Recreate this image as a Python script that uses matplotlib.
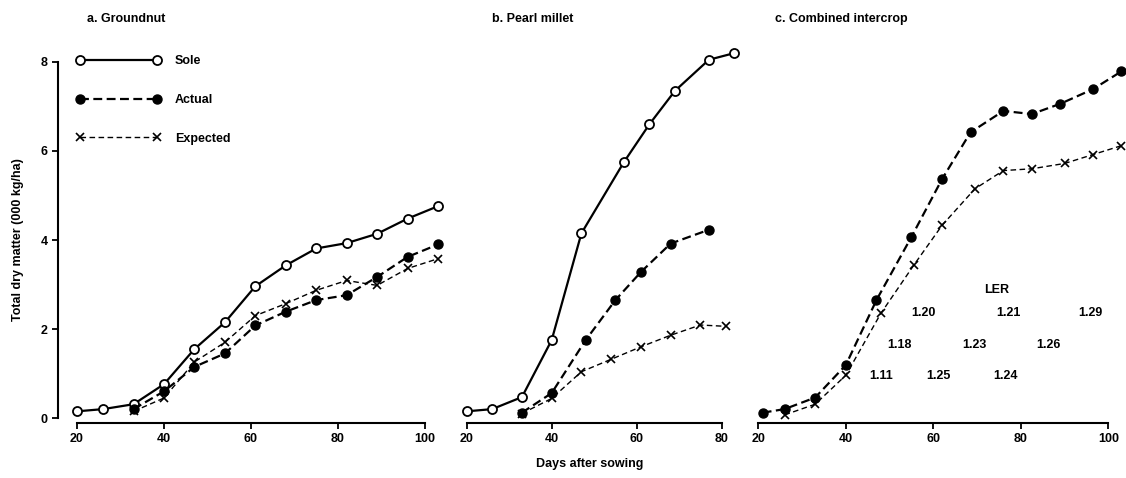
import matplotlib
matplotlib.use("Agg")
import matplotlib.pyplot as plt

plt.rcParams['font.family'] = ['Liberation Sans', 'DejaVu Sans']
plt.rcParams['font.weight'] = 'bold'
plt.rcParams['font.size'] = 9

# a. Groundnut
gn_days = [20, 26, 33, 40, 47, 54, 61, 68, 75, 82, 89, 96, 103]
gn_sole = [0.15, 0.2, 0.31, 0.76, 1.55, 2.15, 2.96, 3.43, 3.81, 3.93, 4.14, 4.48, 4.76]
gn_act_days = [33, 40, 47, 54, 61, 68, 75, 82, 89, 96, 103]
gn_actual = [0.2, 0.6, 1.15, 1.45, 2.08, 2.39, 2.65, 2.76, 3.17, 3.62, 3.9]
gn_expected = [0.15, 0.45, 1.26, 1.7, 2.3, 2.57, 2.87, 3.09, 2.98, 3.36, 3.58]

# b. Pearl millet
pm_days = [20, 26, 33, 40, 47, 57, 63, 69, 77, 83]
pm_sole = [0.15, 0.2, 0.47, 1.75, 4.15, 5.75, 6.6, 7.35, 8.05, 8.2]
pm_act_days = [33, 40, 48, 55, 61, 68, 77]
pm_actual = [0.12, 0.56, 1.75, 2.65, 3.28, 3.92, 4.23]
pm_exp_days = [33, 40, 47, 54, 61, 68, 75, 81]
pm_expected = [0.1, 0.44, 1.04, 1.32, 1.6, 1.86, 2.09, 2.06]

# c. Combined intercrop
ci_act_days = [21, 26, 33, 40, 47, 55, 62, 68.5, 76, 82.5, 89, 96.5, 103]
ci_actual = [0.12, 0.2, 0.46, 1.19, 2.65, 4.07, 5.37, 6.42, 6.9, 6.83, 7.06, 7.39, 7.79]
ci_exp_days = [26, 33, 40, 48, 55.5, 62, 69.5, 76, 82.5, 90, 96.5, 103]
ci_expected = [0.07, 0.31, 0.96, 2.35, 3.43, 4.33, 5.15, 5.56, 5.6, 5.72, 5.92, 6.12]

ler_labels = ['1.11', '1.18', '1.20', '1.25', '1.23', '1.24', '1.21', '1.26', '1.29']
ler_x = [48, 52.2, 57.7, 61.1, 69.4, 76.4, 77.1, 86.3, 95.8]
ler_y = [0.94, 1.64, 2.35, 0.94, 1.64, 0.94, 2.35, 1.64, 2.35]

W, H = 1126, 478
fig = plt.figure(figsize=(W / 100, H / 100), dpi=100)


def make_axes(left, right, x0, x1, xmax, ticks):
    bottom, top = 423, 40
    ax = fig.add_axes([left / W, 1 - bottom / H, (right - left) / W, (bottom - top) / H])
    ax.set_ylim(-0.112, 8.494)
    ax.set_xlim(x0, x1)
    ax.spines['top'].set_visible(False)
    ax.spines['right'].set_visible(False)
    ax.spines['bottom'].set_bounds(20, xmax)
    ax.spines['bottom'].set_linewidth(1.5)
    ax.spines['left'].set_linewidth(1.5)
    ax.set_xticks(ticks)
    ax.tick_params(axis='both', direction='out', length=4, width=1.3, labelsize=9)
    ax.set_facecolor('none')
    return ax


sole_kw = dict(color='black', lw=1.6, ls='-', marker='o', ms=6.5, mfc='white', mec='black', mew=1.3, clip_on=False)
act_kw = dict(color='black', lw=1.6, ls=(0, (4, 2)), marker='o', ms=6.5, mfc='black', mec='black', clip_on=False)
exp_kw = dict(color='black', lw=1.0, ls=(0, (4, 2.5)), marker='x', ms=6, mew=1.2, clip_on=False)

# panel a
ax1 = make_axes(58, 445, 15.63, 104.6, 100, [20, 40, 60, 80, 100])
ax1.spines['left'].set_bounds(0, 8)
ax1.set_yticks([0, 2, 4, 6, 8])
ax1.plot(gn_days, gn_sole, label='Sole', **sole_kw)
ax1.plot(gn_act_days, gn_actual, label='Actual', **act_kw)
ax1.plot(gn_act_days, gn_expected, label='Expected', **exp_kw)
ax1.legend(loc='upper left', bbox_to_anchor=(0.018, 0.99), frameon=False, numpoints=2,
           handlelength=6.8, labelspacing=2.15, handletextpad=1.1, fontsize=9)

# panel b
ax2 = make_axes(455, 745, 17.25, 85.5, 80, [20, 40, 60, 80])
ax2.spines['left'].set_visible(False)
ax2.set_yticks([])
ax2.plot(pm_days, pm_sole, **sole_kw)
ax2.plot(pm_act_days, pm_actual, **act_kw)
ax2.plot(pm_exp_days, pm_expected, **exp_kw)

# panel c
ax3 = make_axes(750, 1125, 18.1, 103.8, 100, [20, 40, 60, 80, 100])
ax3.spines['left'].set_visible(False)
ax3.set_yticks([])
ax3.plot(ci_act_days, ci_actual, **act_kw)
ax3.plot(ci_exp_days, ci_expected, **exp_kw)
ax3.text(74.5, 2.87, 'LER', ha='center', va='center')
for lab, x, y in zip(ler_labels, ler_x, ler_y):
    ax3.text(x, y, lab, ha='center', va='center')

fig.text(87 / W, 1 - 19 / H, 'a. Groundnut', ha='left', va='center')
fig.text(492 / W, 1 - 19 / H, 'b. Pearl millet', ha='left', va='center')
fig.text(775 / W, 1 - 19 / H, 'c. Combined intercrop', ha='left', va='center')
fig.text(18 / W, 1 - 240 / H, 'Total dry matter (000 kg/ha)', rotation=90, ha='center', va='center')
fig.text(590 / W, 1 - 464 / H, 'Days after sowing', ha='center', va='center')

fig.savefig('out.png', dpi=100)
